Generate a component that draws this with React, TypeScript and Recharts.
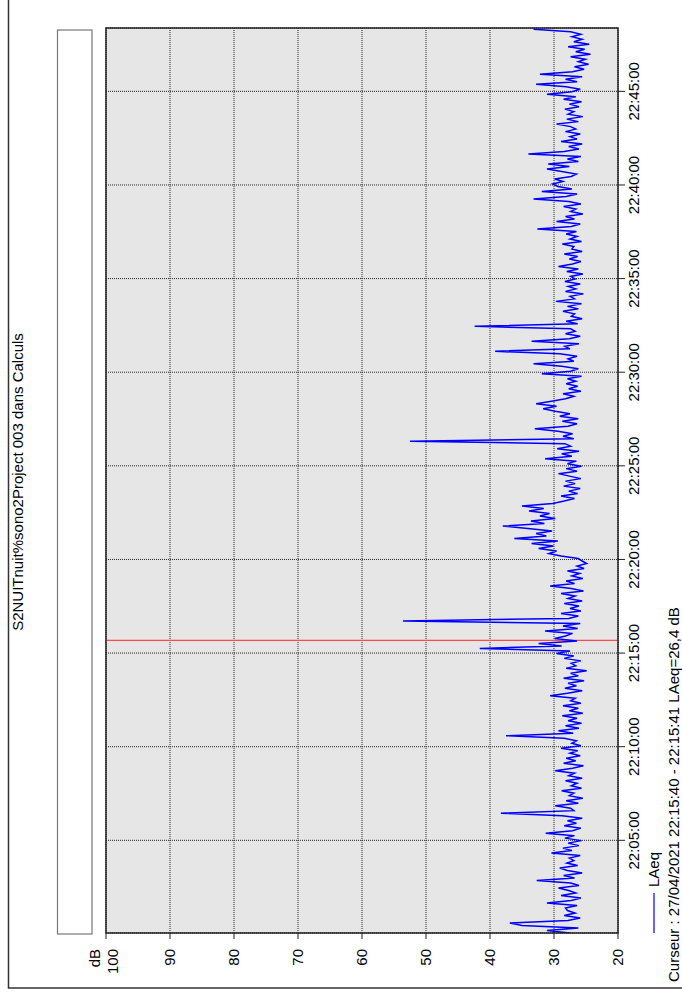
import React from "react"
import { LineChart, Line, XAxis, YAxis, CartesianGrid, ReferenceLine } from "recharts"

// LAeq in dB, one sample every 8 s starting 22:00:03
const SAMPLE_START = 3
const SAMPLE_STEP = 8
const laeq = [
  27.5, 31.1, 26.2, 35.0, 36.9, 27.8, 25.9, 28.4, 26.7, 27.9,
  28.2, 26.4, 31.1, 27.3, 25.8, 28.9, 26.6, 27.7, 29.3, 26.1,
  27.4, 32.7, 26.8, 28.5, 25.6, 27.9, 29.1, 26.3, 28.0, 26.9,
  27.6, 25.9, 30.4, 27.2, 28.6, 26.1, 27.8, 25.7, 28.3, 26.8,
  31.3, 27.1, 25.8, 28.4, 26.5, 27.9, 25.6, 28.7, 38.3, 26.9,
  27.4, 29.8, 26.2, 28.1, 25.5, 27.6, 26.9, 28.8, 25.7, 27.3,
  26.4, 28.2, 25.6, 27.7, 26.8, 29.8, 27.1, 25.4, 28.5, 26.6,
  28.1, 25.9, 27.5, 26.3, 28.9, 25.8, 27.2, 26.5, 28.4, 37.5,
  27.0, 29.3, 26.1, 28.2, 25.7, 27.8, 26.4, 28.7, 25.5, 27.6,
  26.2, 28.6, 25.8, 27.4, 26.7, 30.6, 27.9, 25.6, 28.3, 26.5,
  27.8, 25.3, 28.5, 26.2, 27.4, 24.9, 28.1, 26.6, 27.3, 25.8,
  28.4, 26.9, 29.6, 27.5, 41.6, 28.8, 32.4, 26.4, 29.9, 28.2,
  27.1, 31.4, 26.3, 28.6, 25.9, 53.6, 27.7, 26.2, 28.9, 25.8,
  27.5, 26.1, 28.4, 25.6, 27.8, 26.7, 28.9, 25.4, 27.3, 30.6,
  26.8, 28.1, 25.5, 27.2, 26.0, 27.9, 25.3, 26.4, 24.9, 25.6,
  26.2, 28.9, 30.8, 29.6, 32.4, 30.1, 33.5, 29.4, 36.2, 31.2,
  32.8, 30.3, 34.1, 38.0, 31.5, 33.6, 29.8, 32.2, 30.7, 33.9,
  31.6, 35.0, 30.2, 28.4, 26.8, 28.9, 26.3, 27.7, 25.9, 28.5,
  26.7, 28.2, 25.8, 27.6, 29.3, 26.4, 28.1, 25.7, 27.9, 26.5,
  31.4, 27.2, 28.8, 26.1, 29.5, 27.4, 28.3, 52.5, 26.9, 28.6,
  27.1, 29.4, 33.0, 27.8, 26.4, 28.7, 26.2, 29.1, 27.5, 29.8,
  31.7, 29.6, 32.8, 30.4, 28.2, 26.9, 28.6, 25.8, 27.7, 26.3,
  28.1, 26.6, 27.9, 25.7, 31.9, 27.4, 26.2, 28.8, 33.2, 26.9,
  27.8, 26.4, 29.1, 39.2, 27.5, 28.3, 26.1, 33.5, 27.6, 25.9,
  28.2, 26.7, 27.4, 42.4, 26.3, 28.1, 25.6, 27.3, 26.8, 28.6,
  26.2, 27.9, 25.7, 29.7, 26.8, 27.5, 25.4, 28.2, 26.6, 27.8,
  25.9, 28.3, 26.7, 27.4, 25.5, 28.0, 26.2, 29.3, 27.1, 25.8,
  27.6, 26.3, 28.4, 25.6, 27.2, 26.9, 28.7, 25.7, 27.5, 26.4,
  28.1, 26.5, 32.6, 27.3, 25.9, 29.6, 26.8, 28.2, 25.5, 27.4,
  26.6, 28.5, 25.8, 27.7, 33.2, 28.1, 26.4, 31.9, 27.2, 29.4,
  30.2, 28.6, 29.9, 27.3, 26.5, 28.8, 31.1, 27.6, 30.9, 26.2,
  27.9, 25.8, 34.0, 28.4, 26.1, 27.7, 25.6, 28.9, 26.4, 27.5,
  25.9, 28.2, 26.6, 27.4, 29.6, 26.2, 28.0, 25.5, 27.8, 26.9,
  28.3, 26.1, 27.6, 25.7, 28.5, 26.6, 31.1, 27.2, 25.9, 28.1,
  32.8, 26.4, 28.2, 25.6, 32.2, 27.1, 25.3, 26.8, 24.6, 26.2,
  25.1, 27.4, 24.3, 26.6, 25.2, 27.8, 24.5, 26.9, 25.6, 27.2,
  25.8, 27.4, 33.2,
]

const TIME_TICKS = [300, 600, 900, 1200, 1500, 1800, 2100, 2400, 2700]
const DB_TICKS = [20, 30, 40, 50, 60, 70, 80, 90, 100]
const CURSOR_TIME = 940.5

const rows = laeq.map((v, i) => ({ t: SAMPLE_START + i * SAMPLE_STEP, laeq: v }))

const pad = (n: number) => (n < 10 ? "0" + n : "" + n)
const fmtTime = (s: number) => `22:${pad(Math.floor(s / 60))}:${pad(s % 60)}`

const FONT = "'Liberation Sans', Arial, sans-serif"

// top label sits a bit lower so it doesn't run into "dB"
function DbTick(props: any) {
  const { x, y, payload } = props
  const shift = payload.value === 100 ? 7 : 0
  return (
    <text x={x} y={y + shift} dy="0.355em" textAnchor="end" fontSize={15} fontFamily={FONT} fill="#000">
      {payload.value}
    </text>
  )
}

export default function App() {
  return (
    <div
      style={{
        position: "absolute",
        left: 0,
        top: 0,
        width: 994,
        height: 682,
        background: "#fff",
        transformOrigin: "0 0",
        transform: "translate(0px, 994px) rotate(-90deg)",
        fontFamily: FONT,
      }}
    >
      <LineChart width={994} height={682} data={rows} margin={{ top: 106, right: 28, bottom: 0, left: 0 }}>
        <CartesianGrid stroke="#222" strokeDasharray="1 1" fill="#e6e6e6" fillOpacity={1} />
        <XAxis
          dataKey="t"
          type="number"
          domain={[3, 2903]}
          ticks={TIME_TICKS}
          tickFormatter={fmtTime}
          height={64}
          tickSize={7}
          tickMargin={3}
          axisLine={false}
          tickLine={{ stroke: "#222" }}
          tick={{ fill: "#000", fontSize: 15, fontFamily: FONT }}
          allowDataOverflow
        />
        <YAxis
          type="number"
          domain={[20, 100]}
          ticks={DB_TICKS}
          width={61}
          tickSize={6}
          tickMargin={10}
          axisLine={false}
          tickLine={{ stroke: "#222" }}
          tick={<DbTick />}
          allowDataOverflow
        />
        <ReferenceLine x={CURSOR_TIME} stroke="#ff4a4a" strokeWidth={1.2} />
        <Line
          type="linear"
          dataKey="laeq"
          stroke="#0000ff"
          strokeWidth={1.5}
          dot={false}
          isAnimationActive={false}
        />
      </LineChart>
      <svg
        width={994}
        height={682}
        style={{ position: "absolute", left: 0, top: 0, pointerEvents: "none" }}
      >
        <path d="M6 682 L6 8.5 L994 8.5" fill="none" stroke="#333" strokeWidth={1.5} />
        <text x={512} y={23} textAnchor="middle" fontSize={15} fontFamily={FONT} fill="#000">
          S2NUITnuit%sono2Project 003 dans Calculs
        </text>
        <rect x={60} y={57.5} width={904} height={34.5} fill="#fff" stroke="#777" strokeWidth={1.2} />
        <rect x={61} y={106} width={905} height={512} fill="none" stroke="#222" strokeWidth={1.5} />
        <text x={45} y={100} textAnchor="end" fontSize={15} fontFamily={FONT} fill="#000">
          dB
        </text>
        <line x1={61} y1={654} x2={101} y2={654} stroke="#0000ff" strokeWidth={1.2} />
        <text x={107} y={659} fontSize={15} fontFamily={FONT} fill="#000">
          LAeq
        </text>
        <text x={12} y={679} fontSize={15} fontFamily={FONT} fill="#000">
          Curseur : 27/04/2021 22:15:40 - 22:15:41  LAeq=26,4 dB
        </text>
      </svg>
    </div>
  )
}
